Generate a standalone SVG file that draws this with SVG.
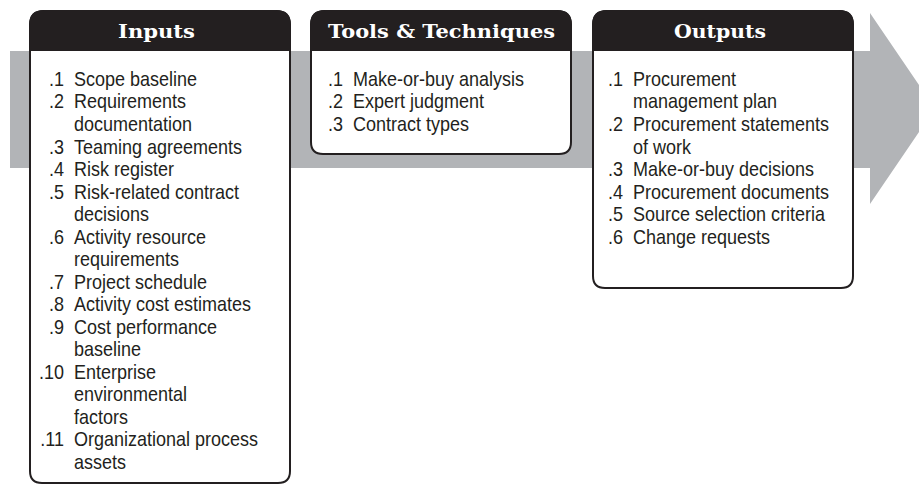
<svg xmlns="http://www.w3.org/2000/svg" width="919" height="485" viewBox="0 0 919 485">
  <style>
    .box { fill: #ffffff; stroke: #231f20; stroke-width: 2; }
    .hdr { fill: #231f20; }
    .htxt { font-family: "DejaVu Serif", "Liberation Serif", serif; font-weight: bold; font-size: 18px; fill: #ffffff; text-anchor: middle; }
    .num { font-family: "Liberation Sans", Arial, sans-serif; font-size: 20px; fill: #231f20; text-anchor: end; }
    .itm { font-family: "Liberation Sans", Arial, sans-serif; font-size: 20px; fill: #231f20; }
  </style>
  <rect width="919" height="485" fill="#ffffff"/>
  <g id="connectors">
    <polygon id="process-arrow" points="10,51 870,51 870,13 935,108.5 870,204 870,168 10,168" fill="#b2b4b7"/>
  </g>

  <g id="inputs">
    <path class="box" d="M30,25 Q30,11 44,11 L276,11 Q290,11 290,25 L290,471 Q290,483 278,483 L42,483 Q30,483 30,471 Z"/>
    <path class="hdr" d="M29,51 L29,25 Q29,10 44,10 L276,10 Q291,10 291,25 L291,51 Z"/>
    <text class="htxt" x="156.5" y="38" textLength="77" lengthAdjust="spacingAndGlyphs">Inputs</text>
    <g transform="scale(0.9,1)">
      <text class="num" x="71.1" y="86">.1</text><text class="itm" x="82.2" y="86">Scope baseline</text>
      <text class="num" x="71.1" y="108.5">.2</text><text class="itm" x="82.2" y="108.5">Requirements</text>
      <text class="itm" x="82.2" y="131.1">documentation</text>
      <text class="num" x="71.1" y="153.6">.3</text><text class="itm" x="82.2" y="153.6">Teaming agreements</text>
      <text class="num" x="71.1" y="176.1">.4</text><text class="itm" x="82.2" y="176.1">Risk register</text>
      <text class="num" x="71.1" y="198.7">.5</text><text class="itm" x="82.2" y="198.7">Risk-related contract</text>
      <text class="itm" x="82.2" y="221.2">decisions</text>
      <text class="num" x="71.1" y="243.7">.6</text><text class="itm" x="82.2" y="243.7">Activity resource</text>
      <text class="itm" x="82.2" y="266.2">requirements</text>
      <text class="num" x="71.1" y="288.8">.7</text><text class="itm" x="82.2" y="288.8">Project schedule</text>
      <text class="num" x="71.1" y="311.3">.8</text><text class="itm" x="82.2" y="311.3">Activity cost estimates</text>
      <text class="num" x="71.1" y="333.8">.9</text><text class="itm" x="82.2" y="333.8">Cost performance</text>
      <text class="itm" x="82.2" y="356.4">baseline</text>
      <text class="num" x="71.1" y="378.9">.10</text><text class="itm" x="82.2" y="378.9">Enterprise</text>
      <text class="itm" x="82.2" y="401.4">environmental</text>
      <text class="itm" x="82.2" y="424">factors</text>
      <text class="num" x="71.1" y="446.5">.11</text><text class="itm" x="82.2" y="446.5">Organizational process</text>
      <text class="itm" x="82.2" y="469">assets</text>
    </g>
  </g>

  <g id="tools-techniques">
    <path class="box" d="M311,25 Q311,11 325,11 L557,11 Q571,11 571,25 L571,142 Q571,154 559,154 L323,154 Q311,154 311,142 Z"/>
    <path class="hdr" d="M310,51 L310,25 Q310,10 325,10 L557,10 Q572,10 572,25 L572,51 Z"/>
    <text class="htxt" x="441.5" y="38" textLength="227" lengthAdjust="spacingAndGlyphs">Tools &amp; Techniques</text>
    <g transform="scale(0.9,1)">
      <text class="num" x="381.1" y="86">.1</text><text class="itm" x="392.2" y="86">Make-or-buy analysis</text>
      <text class="num" x="381.1" y="108.5">.2</text><text class="itm" x="392.2" y="108.5">Expert judgment</text>
      <text class="num" x="381.1" y="131.1">.3</text><text class="itm" x="392.2" y="131.1">Contract types</text>
    </g>
  </g>

  <g id="outputs">
    <path class="box" d="M593,25 Q593,11 607,11 L839,11 Q853,11 853,25 L853,276 Q853,288 841,288 L605,288 Q593,288 593,276 Z"/>
    <path class="hdr" d="M592,51 L592,25 Q592,10 607,10 L839,10 Q854,10 854,25 L854,51 Z"/>
    <text class="htxt" x="720" y="38" textLength="92" lengthAdjust="spacingAndGlyphs">Outputs</text>
    <g transform="scale(0.9,1)">
      <text class="num" x="692.2" y="86">.1</text><text class="itm" x="703.3" y="86">Procurement</text>
      <text class="itm" x="703.3" y="108.5">management plan</text>
      <text class="num" x="692.2" y="131.1">.2</text><text class="itm" x="703.3" y="131.1">Procurement statements</text>
      <text class="itm" x="703.3" y="153.6">of work</text>
      <text class="num" x="692.2" y="176.1">.3</text><text class="itm" x="703.3" y="176.1">Make-or-buy decisions</text>
      <text class="num" x="692.2" y="198.7">.4</text><text class="itm" x="703.3" y="198.7">Procurement documents</text>
      <text class="num" x="692.2" y="221.2">.5</text><text class="itm" x="703.3" y="221.2">Source selection criteria</text>
      <text class="num" x="692.2" y="243.7">.6</text><text class="itm" x="703.3" y="243.7">Change requests</text>
    </g>
  </g>
</svg>
